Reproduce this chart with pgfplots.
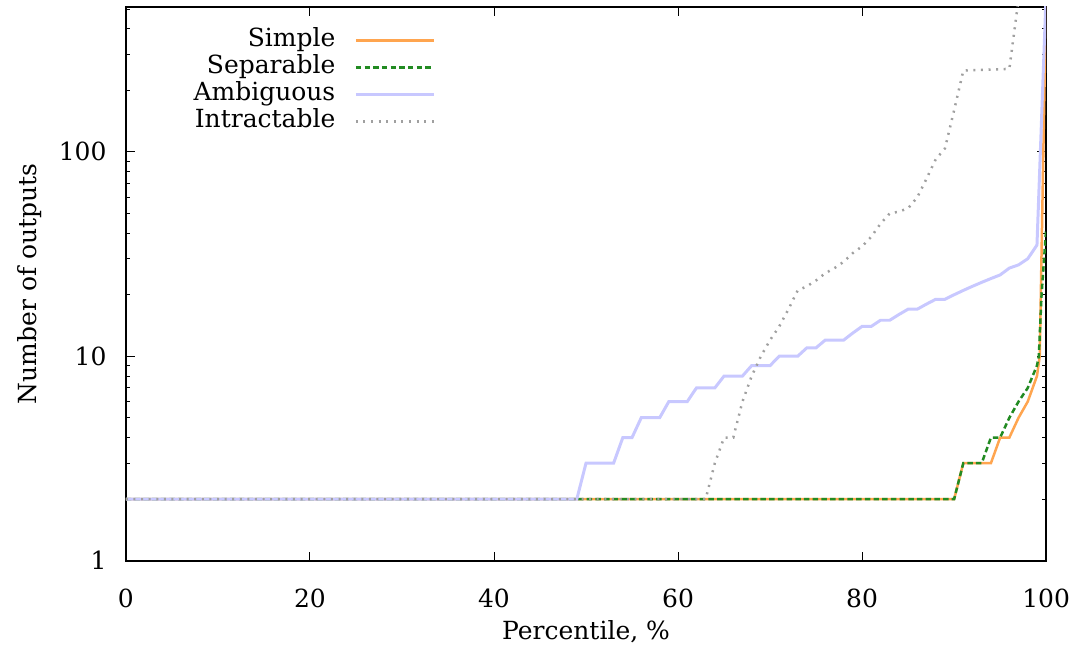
\documentclass[border=0pt]{standalone}
\usepackage{fontspec}
\setmainfont{DejaVu Serif}
\usepackage{pgfplots}
\pgfplotsset{compat=1.18}
\definecolor{csimple}{RGB}{255,165,79}
\definecolor{csep}{RGB}{34,139,34}
\definecolor{camb}{RGB}{200,200,255}
\definecolor{cint}{RGB}{160,160,160}
\begin{document}
\fontsize{12.5bp}{14bp}\selectfont
\begin{tikzpicture}
\begin{axis}[
  scale only axis,
  width=460.5bp, height=277bp,
  ymode=log,
  xmin=0, xmax=100, ymin=1, ymax=512,
  xtick={0,20,40,60,80,100},
  xticklabels={0,20,40,60,80,100},
  ytick={1,10,100},
  yticklabels={1,10,100},
  minor ytick={2,3,4,5,6,7,8,9,20,30,40,50,60,70,80,90,200,300,400,500},
  tick align=inside,
  major tick length=4.5bp,
  minor tick length=2.25bp,
  tick style={black, line width=0.5bp},
  axis line style={line width=1bp},
  xticklabel style={anchor=base, yshift=-23.5bp, inner sep=0pt},
  yticklabel style={anchor=east, xshift=-9.5bp, inner sep=0pt},
  xlabel={Percentile, \%},
  ylabel={Number of outputs},
  every axis x label/.style={at={(axis description cs:0.5,0)}, yshift=-35.5bp, anchor=center},
  every axis y label/.style={at={(axis description cs:0,0.5)}, xshift=-48bp, rotate=90, anchor=center},
  legend plot pos=right,
  legend cell align=right,
  legend style={at={(axis description cs:0.3366,0.9644)}, anchor=north east, draw=none, fill=none, inner sep=0pt, column sep=9.5bp, row sep=0pt, nodes={inner sep=0pt, text height=9.5bp, text depth=4bp}},
  legend image code/.code={\draw[#1] (0bp,0bp) -- (39bp,0bp);},
]
\addplot[csimple, line width=1.25bp] coordinates {
(0,2) (90,2) (91,3) (94,3) (95,4) (96,4) (97,5) (98,6) (99,8) (99.3,10) (100,600)
};
\addlegendentry{Simple}
\addplot[csep, line width=1.25bp, dash pattern=on 2.75bp off 1.6bp] coordinates {
(0,2) (90,2) (91,3) (93,3) (94,4) (95,4) (96,5) (97,6) (98,7) (99,9) (99.2,10) (99.5,20) (100,42)
};
\addlegendentry{Separable}
\addplot[camb, line width=1.5bp] coordinates {
(0,2) (49,2) (50,3) (53,3) (54,4) (55,4) (56,5) (58,5) (59,6) (61,6) (62,7) (64,7) (65,8) (67,8) (68,9) (70,9) (71,10) (73,10) (74,11) (75,11) (76,12) (78,12) (79,13) (80,14) (81,14) (82,15) (83,15) (84,16) (85,17) (86,17) (87,18) (88,19) (89,19) (90,20) (91,21) (92,22) (93,23) (94,24) (95,25) (96,27) (97,28) (98,30) (99,35) (100,600)
};
\addlegendentry{Ambiguous}
\addplot[cint, line width=1.25bp, dash pattern=on 1bp off 2.8bp] coordinates {
(0,2) (63,2) (64,3) (65,4) (66,4) (67,6) (68,8) (69,10) (70,12) (71,14) (72,17) (73,21) (74,22) (75,23.5) (76,25.5) (77,27) (78,29) (79,32) (80,34.5) (81,38.5) (82,44.5) (83,50) (84,51) (85,53) (86,60) (87,74) (88,92) (89,104) (90,160) (91,250) (96,255) (97,560) (98,2000) (99,5000) (100,10000)
};
\addlegendentry{Intractable}
\end{axis}
\path[use as bounding box] ([xshift=-63bp,yshift=-47bp]current axis.south west) rectangle ([xshift=11.5bp,yshift=3.5bp]current axis.north east);
\end{tikzpicture}
\end{document}
